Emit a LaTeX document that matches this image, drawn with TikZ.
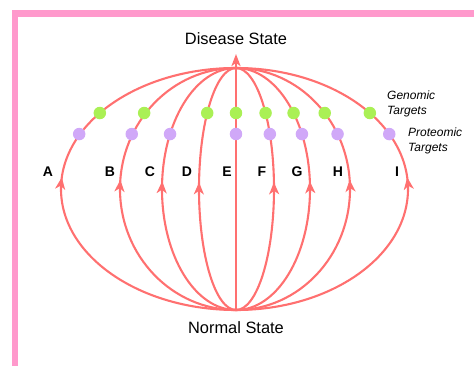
\documentclass[tikz,border=0pt]{standalone}
\usepackage{fontspec}
\setmainfont{Liberation Sans}
\usetikzlibrary{arrows.meta,decorations.markings}
\definecolor{curvecol}{RGB}{255,112,112}
\definecolor{gencol}{RGB}{170,240,85}
\definecolor{protcol}{RGB}{208,168,248}
\definecolor{framecol}{RGB}{255,153,204}
\tikzset{
  curve/.style={color=curvecol, line width=2.1pt, postaction={decorate},
    decoration={markings, mark=at position 0.525 with {\arrow{Stealth[length=12pt,width=10pt,inset=3.5pt]}}}},
  gdot/.style={circle, fill=gencol, inner sep=0pt, minimum size=12.5pt},
  pdot/.style={circle, fill=protcol, inner sep=0pt, minimum size=12.5pt},
  letter/.style={font=\fontsize{14}{16}\selectfont\bfseries, inner sep=0pt},
  state/.style={font=\fontsize{16.4}{19}\selectfont, inner sep=0pt},
  note/.style={font=\fontsize{12}{15}\selectfont\itshape, inner sep=0pt, align=left, anchor=west}
}
\begin{document}
\begin{tikzpicture}[x=1pt,y=1pt]
\useasboundingbox (-236,-177) rectangle (238,189);
% frame
\fill[framecol] (-224,-177) rectangle (-218,179);
\fill[framecol] (-224,172) rectangle (238,179);
% end points
\coordinate (bot) at (0,-121);
\coordinate (top) at (0,121);
\coordinate (tip) at (0,135);
% curves
\draw[curve] (bot) arc[start angle=270, end angle=90, x radius=175, y radius=121];
\draw[curve] (bot) arc[start angle=270, end angle=90, x radius=116, y radius=121];
\draw[curve] (bot) arc[start angle=270, end angle=90, x radius=74, y radius=121];
\draw[curve] (bot) arc[start angle=270, end angle=90, x radius=37, y radius=121];
\draw[curve] (bot) arc[start angle=-90, end angle=90, x radius=38, y radius=121];
\draw[curve] (bot) arc[start angle=-90, end angle=90, x radius=74, y radius=121];
\draw[curve] (bot) arc[start angle=-90, end angle=90, x radius=114, y radius=121];
\draw[curve] (bot) arc[start angle=-90, end angle=90, x radius=172, y radius=121];
\draw[color=curvecol, line width=2.1pt, -{Stealth[length=12pt,width=9pt,inset=3pt]}] (bot) -- (tip);
% genomic dots
\node[gdot] (gA) at (141.1:175 and 121) {};
\node[gdot] (gB) at (141.1:118 and 121) {};
\node[gdot] (gD) at (141.1:37 and 121) {};
\node[gdot] (gE) at (0,76) {};
\node[gdot] (gF) at (38.9:38 and 121) {};
\node[gdot] (gG) at (38.9:74 and 121) {};
\node[gdot] (gH) at (38.9:114 and 121) {};
\node[gdot] (gI) at (38.9:172 and 121) {};
% proteomic dots
\node[pdot] (pA) at (153:176 and 121) {};
\node[pdot] (pB) at (153:117 and 121) {};
\node[pdot] (pC) at (153:74 and 121) {};
\node[pdot] (pE) at (0,55) {};
\node[pdot] (pF) at (27:38 and 121) {};
\node[pdot] (pG) at (27:74 and 121) {};
\node[pdot] (pH) at (27:114 and 121) {};
\node[pdot] (pI) at (27:172 and 121) {};
% letters
\node[letter] (lA) at (-188,17) {A};
\node[letter] (lB) at (-126,17) {B};
\node[letter] (lC) at (-86,17) {C};
\node[letter] (lD) at (-49,17) {D};
\node[letter] (lE) at (-9,17) {E};
\node[letter] (lF) at (26,17) {F};
\node[letter] (lG) at (61,17) {G};
\node[letter] (lH) at (102,17) {H};
\node[letter] (lI) at (161,17) {I};
% titles
\node[state] (disease) at (0,150) {Disease State};
\node[state] (normal) at (0,-139) {Normal State};
\node[note] (gen) at (151,85) {Genomic\\Targets};
\node[note] (prot) at (172,48) {Proteomic\\Targets};
\end{tikzpicture}
\end{document}
